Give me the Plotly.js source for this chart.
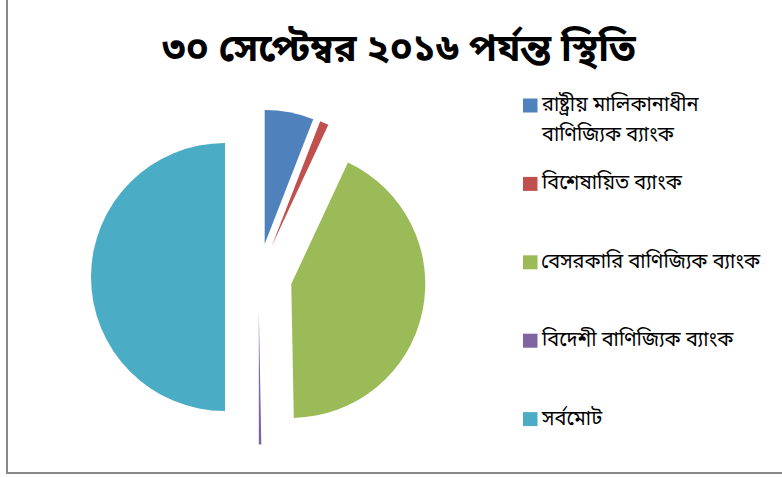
<!DOCTYPE html>
<html>
<head>
<meta charset="utf-8">
<script src="https://cdn.plot.ly/plotly-3.0.1.min.js"></script>
<style>
html,body{margin:0;padding:0;background:#fff;}
#chart{width:782px;height:477px;}
</style>
</head>
<body>
<div id="chart"></div>
<script>
// Data
var titleText = "৩০ সেপ্টেম্বর ২০১৬ পর্যন্ত স্থিতি";
var categories = [
  "রাষ্ট্রীয় মালিকানাধীন<br>বাণিজ্যিক ব্যাংক",
  "বিশেষায়িত ব্যাংক",
  "বেসরকারি বাণিজ্যিক ব্যাংক",
  "বিদেশী বাণিজ্যিক ব্যাংক",
  "সর্বমোট"
];
var values = [11.8, 2.1, 85.5, 0.6, 100];
var colors = ["#4F81BD", "#C0504D", "#9BBB59", "#8064A2", "#4BACC6"];

var W = 782, H = 477;
var FONT = "'Noto Sans Bengali', 'Lohit Bengali', Vrinda, 'Noto Sans', sans-serif";

var trace = {
  type: "pie",
  labels: categories,
  values: values,
  sort: false,
  direction: "clockwise",
  rotation: 0,
  pull: [0.25, 0.25, 0.25, 0.25, 0.25],
  marker: {colors: colors, line: {width: 0}},
  textinfo: "none",
  hoverinfo: "none",
  showlegend: false,
  domain: {x: [91 / W, 426 / W], y: [1 - 444.5 / H, 1 - 109.5 / H]}
};

// legend built from arrays
var shapes = [{
  type: "rect", xref: "paper", yref: "paper",
  x0: 7 / W, x1: 1.02, y0: 1 - 473 / H, y1: 1.02,
  line: {color: "#888888", width: 2}, fillcolor: "rgba(0,0,0,0)"
}];
var annotations = [];
categories.forEach(function (lab, i) {
  var cy = 105.5 + i * 78.4;
  shapes.push({
    type: "rect", xref: "paper", yref: "paper",
    x0: 523 / W, x1: 537.5 / W, y0: 1 - (cy + 7) / H, y1: 1 - (cy - 7) / H,
    line: {width: 0}, fillcolor: colors[i]
  });
  lab.split("<br>").forEach(function (line, j) {
    annotations.push({
      xref: "paper", yref: "paper", x: 539 / W, y: 1 - (cy + j * 30) / H,
      xanchor: "left", yanchor: "middle", showarrow: false, text: line,
      font: {family: FONT, size: 20, color: "#000"}
    });
  });
});

var layout = {
  width: W, height: H,
  margin: {l: 0, r: 0, t: 0, b: 0},
  paper_bgcolor: "#fff",
  title: {
    text: "<b>" + titleText + "</b>",
    x: 399 / W, xanchor: "center", y: 1 - 48 / H, yanchor: "middle",
    font: {family: FONT, size: 38, color: "#000"}
  },
  shapes: shapes,
  annotations: annotations
};

Plotly.newPlot("chart", [trace], layout, {staticPlot: true, displayModeBar: false});
</script>
</body>
</html>
